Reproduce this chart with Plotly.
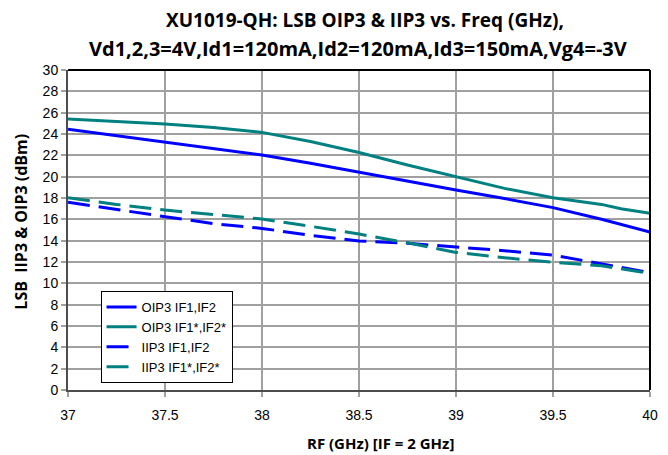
import plotly.graph_objects as go

freq = [37.0, 37.25, 37.5, 37.75, 38.0, 38.25, 38.5, 38.75, 39.0, 39.25, 39.5, 39.75, 39.85, 40.0]
oip3_if1 = [24.45, 23.85, 23.28, 22.7, 22.03, 21.25, 20.4, 19.6, 18.75, 17.95, 17.1, 16.0, 15.5, 14.8]
oip3_if1s = [25.4, 25.15, 24.93, 24.6, 24.15, 23.3, 22.27, 21.1, 20.0, 18.9, 18.03, 17.4, 17.0, 16.56]
iip3_if1 = [17.6, 16.9, 16.25, 15.6, 15.15, 14.5, 13.97, 13.75, 13.44, 13.06, 12.65, 11.87, 11.5, 11.0]
iip3_if1s = [18.03, 17.4, 16.87, 16.47, 16.03, 15.35, 14.62, 13.8, 12.9, 12.4, 11.97, 11.65, 11.35, 10.93]

title_line1 = "XU1019-QH: LSB OIP3 &amp; IIP3 vs. Freq (GHz),"
title_line2 = "Vd1,2,3=4V,Id1=120mA,Id2=120mA,Id3=150mA,Vg4=-3V"
x_title = "RF (GHz) [IF = 2 GHz]"
y_title = "LSB  IIP3 &amp; OIP3 (dBm)"

blue = "#0000FF"
teal = "#008080"
dash = "22px,9px"
tfont = "Open Sans"

fig = go.Figure()
fig.add_trace(go.Scatter(x=freq, y=oip3_if1, mode="lines", name="OIP3 IF1,IF2",
                         line=dict(color=blue, width=3)))
fig.add_trace(go.Scatter(x=freq, y=oip3_if1s, mode="lines", name="OIP3 IF1*,IF2*",
                         line=dict(color=teal, width=3)))
fig.add_trace(go.Scatter(x=freq, y=iip3_if1, mode="lines", name="IIP3 IF1,IF2",
                         line=dict(color=blue, width=3, dash=dash)))
fig.add_trace(go.Scatter(x=freq, y=iip3_if1s, mode="lines", name="IIP3 IF1*,IF2*",
                         line=dict(color=teal, width=3, dash=dash)))

W, H = 668, 455
L, R, T, B = 68, 10, 70, 65
pw, ph = W - L - R, H - T - B

def px_x(p):
    return (p - L) / pw

def px_y(p):
    return (H - B - p) / ph

annotations = [
    dict(text="<b>" + title_line1 + "</b>", x=px_x(369), y=px_y(20), xref="paper", yref="paper",
         xanchor="center", yanchor="middle", showarrow=False,
         font=dict(family=tfont, size=19, color="black")),
    dict(text="<b>" + title_line2 + "</b>", x=px_x(362), y=px_y(49), xref="paper", yref="paper",
         xanchor="center", yanchor="middle", showarrow=False,
         font=dict(family=tfont, size=20, color="black")),
    dict(text="<b>" + x_title + "</b>", x=px_x(385), y=px_y(443), xref="paper", yref="paper",
         xanchor="center", yanchor="middle", showarrow=False,
         font=dict(family=tfont, size=15, color="black")),
    dict(text="<b>" + y_title + "</b>", x=px_x(20), y=px_y(222), xref="paper", yref="paper",
         xanchor="center", yanchor="middle", showarrow=False, textangle=-90,
         font=dict(family=tfont, size=16, color="black")),
]

fig.update_layout(
    width=W, height=H,
    margin=dict(l=L, r=R, t=T, b=B),
    paper_bgcolor="white", plot_bgcolor="white",
    font=dict(family="Liberation Sans", size=14, color="black"),
    showlegend=True,
    legend=dict(x=px_x(101), y=px_y(291), xanchor="left", yanchor="top",
                bgcolor="white", bordercolor="black", borderwidth=1,
                font=dict(family="Liberation Sans", size=13),
                tracegroupgap=0, itemwidth=30),
    annotations=annotations,
    shapes=[
        dict(type="line", xref="paper", yref="paper", x0=0, x1=1, y0=1, y1=1,
             line=dict(color="black", width=2)),
        dict(type="line", xref="paper", yref="paper", x0=1, x1=1, y0=0, y1=1,
             line=dict(color="black", width=2)),
    ],
)
fig.update_xaxes(
    range=[37, 40], dtick=0.5, tick0=37,
    showgrid=True, gridcolor="#A0A0A0", gridwidth=2,
    showline=True, linecolor="#4D4D4D", linewidth=2,
    ticks="outside", ticklen=5, tickcolor="#A0A0A0", tickwidth=2,
    ticklabelstandoff=6,
    zeroline=False,
)
fig.update_yaxes(
    range=[0, 30], dtick=2,
    showgrid=True, gridcolor="#A0A0A0", gridwidth=2,
    showline=True, linecolor="#4D4D4D", linewidth=2,
    ticks="outside", ticklen=5, tickcolor="#A0A0A0", tickwidth=2,
    zeroline=False,
)

fig.write_html("out.html", config={"displayModeBar": False},
               post_script="document.body.style.margin='0';")
